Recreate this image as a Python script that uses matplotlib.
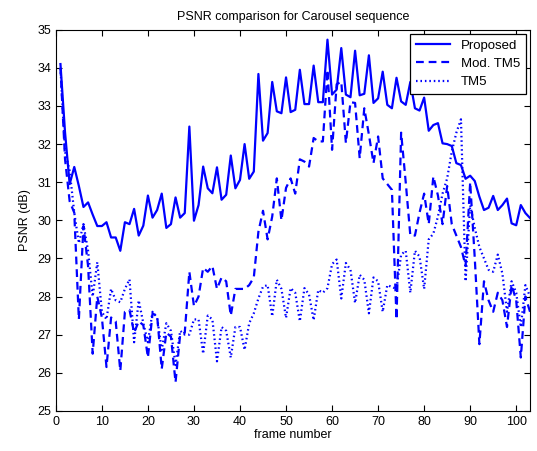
import numpy as np
import matplotlib.pyplot as plt

plt.rcParams['font.family'] = ['Liberation Sans', 'DejaVu Sans']

frames = np.arange(1, 104)

proposed = [
    34.1, 32.3, 30.95, 31.4, 30.9, 30.35, 30.47, 30.15, 29.85, 29.85,
    29.95, 29.55, 29.55, 29.2, 29.95, 29.9, 30.3, 29.6, 29.86, 30.65,
    30.07, 30.27, 30.7, 29.8, 29.9, 30.6, 30.07, 30.19, 32.46, 29.99,
    30.4, 31.41, 30.84, 30.71, 31.39, 30.54, 30.67, 31.7, 30.84, 31.06,
    32.0, 31.09, 31.28, 33.84, 32.09, 32.29, 33.63, 32.86, 32.81, 33.75,
    32.84, 32.9, 33.95, 33.05, 33.05, 34.06, 33.1, 33.1, 34.74, 33.3,
    33.43, 34.52, 33.3, 33.23, 34.45, 33.28, 33.32, 34.33, 33.08, 33.2,
    33.9, 33.03, 32.94, 33.74, 33.12, 33.03, 33.63, 32.94, 32.88, 33.22,
    32.35, 32.5, 32.55, 32.02, 32.0, 31.95, 31.5, 31.45, 31.09, 31.17,
    31.03, 30.62, 30.27, 30.33, 30.64, 30.27, 30.4, 30.57, 29.92, 29.87,
    30.4, 30.19, 30.06,
]

mod_tm5 = [
    34.0, 31.6, 30.5, 30.2, 27.4, 29.85, 28.8, 26.5, 28.0, 27.45,
    26.15, 27.45, 27.35, 26.05, 27.6, 27.65, 27.05, 27.35, 27.25, 26.4,
    27.55, 27.5, 26.1, 27.05, 26.95, 25.75, 27.0, 27.05, 28.65, 27.75,
    28.0, 28.75, 28.65, 28.8, 28.2, 28.5, 28.4, 27.5, 28.2, 28.2,
    28.2, 28.3, 28.5, 29.7, 30.25, 29.5, 30.1, 31.1, 30.0, 30.85,
    31.1, 30.7, 31.6, 31.54, 31.41, 32.16, 32.07, 32.07, 33.95, 31.85,
    33.57, 33.64, 32.03, 33.1, 33.08, 31.63, 32.94, 32.25, 31.5, 32.2,
    31.1, 30.95, 30.8, 27.4, 32.3, 31.0, 29.6, 29.6, 30.2, 30.7,
    29.9, 31.15, 30.65, 29.9, 30.9, 29.9, 29.6, 29.3, 28.8, 31.0,
    29.0, 26.75, 28.4, 27.9, 27.6, 28.1, 27.9, 27.2, 28.3, 27.9,
    26.4, 28.0, 27.6,
]

tm5 = [
    34.0, 31.8, 31.3, 30.2, 29.4, 29.9, 29.2, 28.0, 28.9, 27.6,
    27.4, 28.2, 27.9, 27.85, 28.2, 28.45, 26.8, 27.9, 27.3, 26.8,
    27.6, 27.45, 26.6, 27.3, 27.1, 26.2, 27.1, 27.0, 27.0, 27.4,
    27.4, 26.5, 27.5, 27.4, 26.3, 27.2, 27.1, 26.4, 27.2, 27.2,
    26.6, 27.3, 27.56, 27.95, 28.26, 28.3, 27.48, 28.44, 28.2, 27.44,
    28.22, 28.1, 27.35, 28.22, 28.05, 27.38, 28.17, 28.1, 28.22, 28.85,
    28.97, 27.95, 28.88, 28.7, 27.83, 28.57, 28.44, 27.56, 28.5, 28.4,
    27.6, 28.3, 28.25, 28.2, 29.1, 29.2, 28.1, 29.2, 29.05, 28.2,
    29.5, 29.65, 30.1, 30.7, 31.1, 31.8, 32.3, 32.65, 28.4, 30.4,
    29.8, 29.3, 29.0, 28.7, 28.65, 29.1, 28.6, 27.6, 28.4, 28.1,
    27.2, 28.3, 28.0,
]

fig = plt.figure(figsize=(5.37, 4.51), dpi=100)
ax = fig.add_axes([0.104, 0.089, 0.883, 0.845])

ax.plot(frames, proposed, '-', color='#0000ff', lw=1.6, label='Proposed')
ax.plot(frames, mod_tm5, '--', color='#0000ff', lw=1.6, dashes=(3.5, 2.2), label='Mod. TM5')
ax.plot(frames, tm5, ':', color='#0000ff', lw=1.6, dashes=(0.7, 1.3), label='TM5')

ax.set_xlim(0, 103)
ax.set_ylim(25, 35)
ax.set_xticks(range(0, 101, 10))
ax.set_yticks(range(25, 36))
ax.tick_params(direction='in', top=True, right=True, labelsize=9, length=4)
for s in ax.spines.values():
    s.set_linewidth(0.8)

ax.set_title('PSNR comparison for Carousel sequence', fontsize=9, pad=7)
ax.set_xlabel('frame number', fontsize=9, labelpad=1)
ax.set_ylabel('PSNR (dB)', fontsize=9, labelpad=4)

leg = ax.legend(loc='upper right', fontsize=9.5, fancybox=False, framealpha=1,
                edgecolor='black', borderaxespad=0.3, handlelength=2.6,
                labelspacing=0.45, borderpad=0.45)
leg.get_frame().set_linewidth(0.9)

fig.savefig('out.png', dpi=100)
